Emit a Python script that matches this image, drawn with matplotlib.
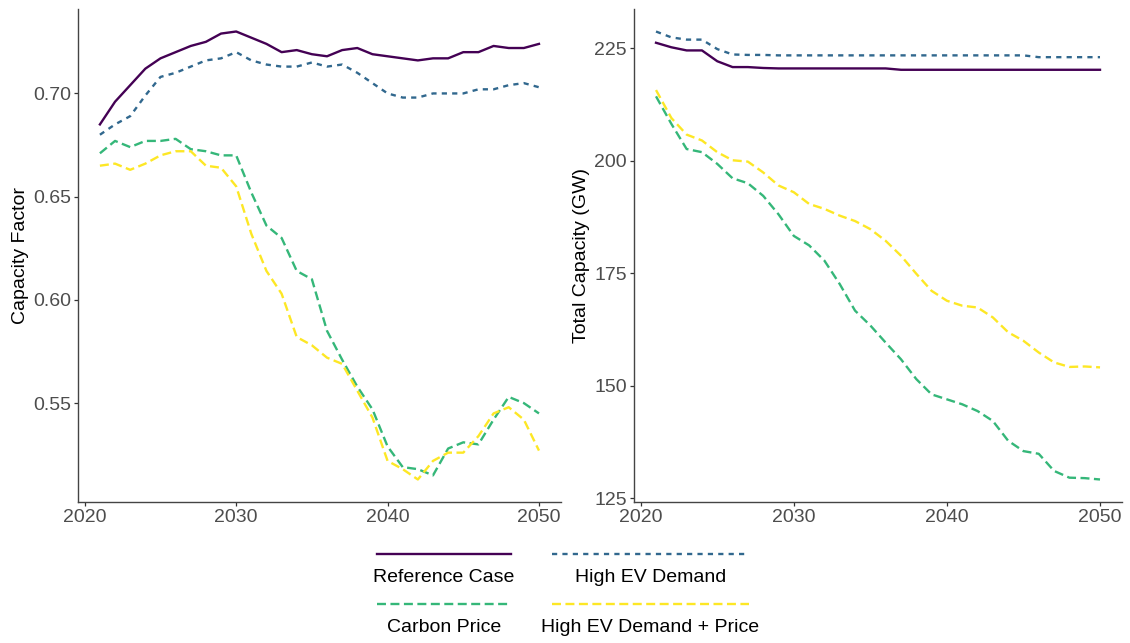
import matplotlib
matplotlib.use("Agg")
import matplotlib.pyplot as plt
from matplotlib.lines import Line2D

plt.rcParams["font.family"] = ["Liberation Sans", "DejaVu Sans"]

# -------- Data --------
years = list(range(2021, 2051))

scenarios = ["Reference Case", "High EV Demand", "Carbon Price", "High EV Demand + Price"]
colors = ["#440154", "#31688E", "#35B779", "#FDE725"]

cf_reference = [0.685, 0.696, 0.704, 0.712, 0.717, 0.720, 0.723, 0.725, 0.729, 0.730,
                0.727, 0.724, 0.720, 0.721, 0.719, 0.718, 0.721, 0.722, 0.719, 0.718,
                0.717, 0.716, 0.717, 0.717, 0.720, 0.720, 0.723, 0.722, 0.722, 0.724]
cf_high_ev = [0.680, 0.685, 0.689, 0.699, 0.708, 0.710, 0.713, 0.716, 0.717, 0.720,
              0.716, 0.714, 0.713, 0.713, 0.715, 0.713, 0.714, 0.710, 0.705, 0.700,
              0.698, 0.698, 0.700, 0.700, 0.700, 0.702, 0.702, 0.704, 0.705, 0.703]
cf_carbon = [0.671, 0.677, 0.674, 0.677, 0.677, 0.678, 0.673, 0.672, 0.670, 0.670,
             0.652, 0.636, 0.630, 0.614, 0.610, 0.585, 0.571, 0.558, 0.547, 0.529,
             0.519, 0.518, 0.515, 0.528, 0.531, 0.530, 0.542, 0.553, 0.550, 0.545]
cf_ev_price = [0.665, 0.666, 0.663, 0.666, 0.670, 0.672, 0.672, 0.665, 0.664, 0.655,
               0.632, 0.614, 0.603, 0.582, 0.578, 0.572, 0.569, 0.556, 0.543, 0.522,
               0.518, 0.513, 0.522, 0.526, 0.526, 0.534, 0.545, 0.548, 0.542, 0.527]

cap_reference = [226.2, 225.2, 224.5, 224.5, 222.1, 220.8, 220.8, 220.6, 220.5, 220.5,
                 220.5, 220.5, 220.5, 220.5, 220.5, 220.5, 220.2, 220.2, 220.2, 220.2,
                 220.2, 220.2, 220.2, 220.2, 220.2, 220.2, 220.2, 220.2, 220.2, 220.2]
cap_high_ev = [228.7, 227.4, 226.9, 226.9, 224.8, 223.6, 223.5, 223.5, 223.4, 223.4,
               223.4, 223.4, 223.4, 223.4, 223.4, 223.4, 223.4, 223.4, 223.4, 223.4,
               223.4, 223.4, 223.4, 223.4, 223.4, 223.0, 223.0, 223.0, 223.0, 223.0]
cap_carbon = [214.3, 208.2, 202.6, 201.9, 199.3, 196.1, 195.0, 192.2, 188.1, 183.3,
              181.2, 177.8, 172.6, 166.7, 163.4, 159.6, 155.9, 151.5, 148.1, 147.0,
              145.9, 144.4, 142.2, 137.8, 135.5, 134.9, 131.1, 129.6, 129.5, 129.2]
cap_ev_price = [215.7, 209.5, 205.8, 204.5, 201.9, 200.1, 199.8, 197.4, 194.5, 193.0,
                190.4, 189.3, 187.8, 186.6, 184.8, 182.2, 178.9, 174.9, 171.1, 168.9,
                167.8, 167.4, 165.2, 161.9, 160.0, 157.4, 155.2, 154.2, 154.3, 154.1]

x_ticks = [2020, 2030, 2040, 2050]
cf_ticks = [0.55, 0.60, 0.65, 0.70]
cap_ticks = [125, 150, 175, 200, 225]

# line styles per scenario: solid, dotted, dashed, dashed
LW = 1.7
dash_styles = [None, (2.2, 2.2), (3.8, 1.9), (3.8, 1.9)]


def draw_line(ax, x, y, i):
    line, = ax.plot(x, y, color=colors[i], lw=LW,
                    solid_joinstyle="round", dash_joinstyle="round", dash_capstyle="butt")
    if dash_styles[i] is not None:
        line.set_dashes(dash_styles[i])
    return line


def style_axes(ax):
    for side in ["top", "right"]:
        ax.spines[side].set_visible(False)
    for side in ["left", "bottom"]:
        ax.spines[side].set_color("#444444")
        ax.spines[side].set_linewidth(1.0)
    ax.tick_params(labelsize=14, labelcolor="#4D4D4D", color="#333333",
                   length=3, width=0.9, pad=2)
    ax.set_xlim(2019.55, 2051.45)
    ax.set_xticks(x_ticks)


fig = plt.figure(figsize=(11.3, 6.43), dpi=100)

# -------- Panel 1: Capacity Factor --------
ax1 = fig.add_axes([0.069, 0.2193, 0.4274, 0.7667])
for i, series in enumerate([cf_reference, cf_high_ev, cf_carbon, cf_ev_price]):
    draw_line(ax1, years, series, i)
style_axes(ax1)
ax1.set_ylim(0.5021, 0.7409)
ax1.set_yticks(cf_ticks)
ax1.set_yticklabels([f"{t:.2f}" for t in cf_ticks])
ax1.set_ylabel("Capacity Factor", fontsize=14, labelpad=3)

# -------- Panel 2: Total Capacity --------
ax2 = fig.add_axes([0.5609, 0.2193, 0.4322, 0.7667])
for i, series in enumerate([cap_reference, cap_high_ev, cap_carbon, cap_ev_price]):
    draw_line(ax2, years, series, i)
style_axes(ax2)
ax2.set_ylim(124.2, 233.7)
ax2.set_yticks(cap_ticks)
ax2.set_ylabel("Total Capacity (GW)", fontsize=14, labelpad=3)

# -------- Legend: keys above labels, 2 x 2 --------
key_x = [(0.3336, 0.4522), (0.4889, 0.6624)]
key_y = [0.1384, 0.0614]
label_y = [0.1026, 0.0244]
for i, name in enumerate(scenarios):
    row, col = i // 2, i % 2
    x0, x1 = key_x[col]
    key = Line2D([x0, x1], [key_y[row]] * 2, transform=fig.transFigure,
                 color=colors[i], lw=LW, dash_capstyle="butt")
    if dash_styles[i] is not None:
        key.set_dashes(dash_styles[i])
    fig.add_artist(key)
    fig.text((x0 + x1) / 2, label_y[row], name, ha="center", va="center", fontsize=14)

fig.savefig("out.png", dpi=100)
